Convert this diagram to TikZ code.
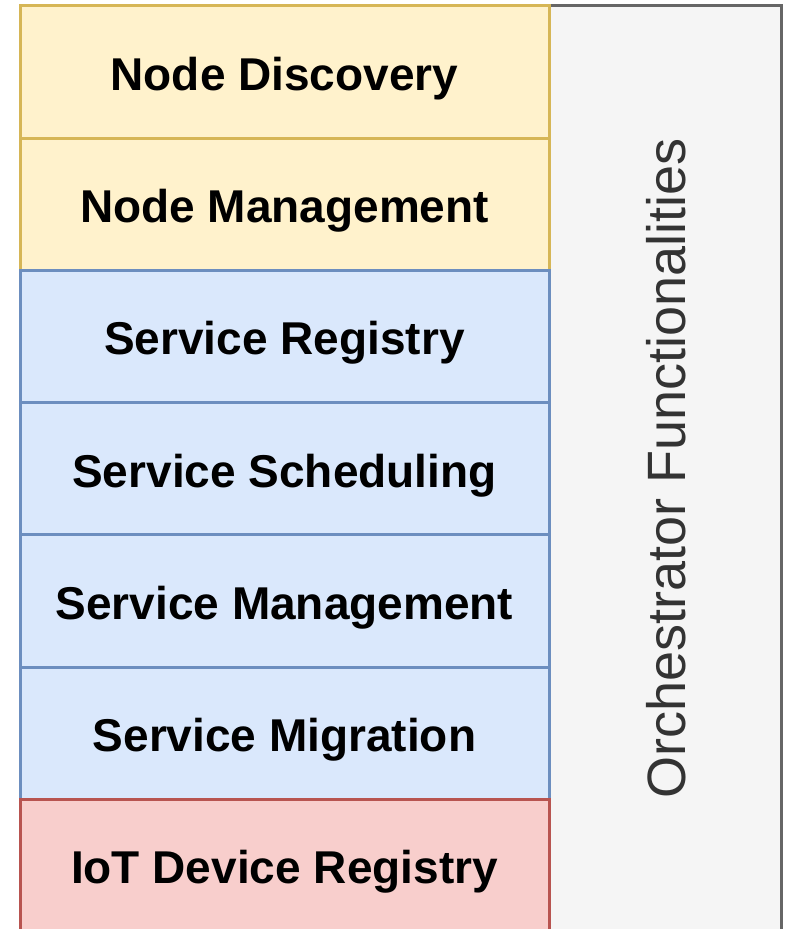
\documentclass[tikz,border=0pt]{standalone}
\usepackage{fontspec}
\setmainfont{Liberation Sans}
\usetikzlibrary{positioning}

\definecolor{yellowfill}{HTML}{FFF2CC}
\definecolor{yellowline}{HTML}{D6B656}
\definecolor{bluefill}{HTML}{DAE8FC}
\definecolor{blueline}{HTML}{6C8EBF}
\definecolor{redfill}{HTML}{F8CECC}
\definecolor{redline}{HTML}{B85450}
\definecolor{grayfill}{HTML}{F5F5F5}
\definecolor{grayline}{HTML}{666666}
\definecolor{graytext}{HTML}{333333}

\tikzset{
  layer/.style={draw, line width=1.5pt, outer sep=0pt, minimum width=264.5pt,
    minimum height=66.1pt, text height=18.5pt, text depth=0pt,
    font=\fontsize{23}{26}\selectfont\bfseries},
  nodelayer/.style={layer, fill=yellowfill, draw=yellowline},
  servicelayer/.style={layer, fill=bluefill, draw=blueline},
  iotlayer/.style={layer, fill=redfill, draw=redline},
  orchbox/.style={draw=grayline, fill=grayfill, line width=1.5pt, outer sep=0pt,
    minimum width=116pt, minimum height=462.5pt, anchor=north west},
}

\begin{document}
\begin{tikzpicture}

% Page size
\useasboundingbox (0pt, 0pt) rectangle (393.5pt, -464.5pt);

% Side box
\node[orchbox] (orch) at (274.5pt, -3pt) {};
\node[rotate=90, text=graytext, font=\fontsize{27}{30}\selectfont] (orchtext)
  at ([xshift=0.5pt]orch.center) {Orchestrator Functionalities};

% Layers
\node[nodelayer, anchor=north west] (disc) at (10pt, -3pt) {Node Discovery};
\node[nodelayer, below=0pt of disc] (nmgmt) {Node Management};
\node[servicelayer, below=0pt of nmgmt] (sreg) {Service Registry};
\node[servicelayer, below=0pt of sreg] (ssched) {Service Scheduling};
\node[servicelayer, below=0pt of ssched] (smgmt) {Service Management};
\node[servicelayer, below=0pt of smgmt] (smig) {Service Migration};
\node[iotlayer, below=0pt of smig] (iot) {IoT Device Registry};

\end{tikzpicture}
\end{document}
